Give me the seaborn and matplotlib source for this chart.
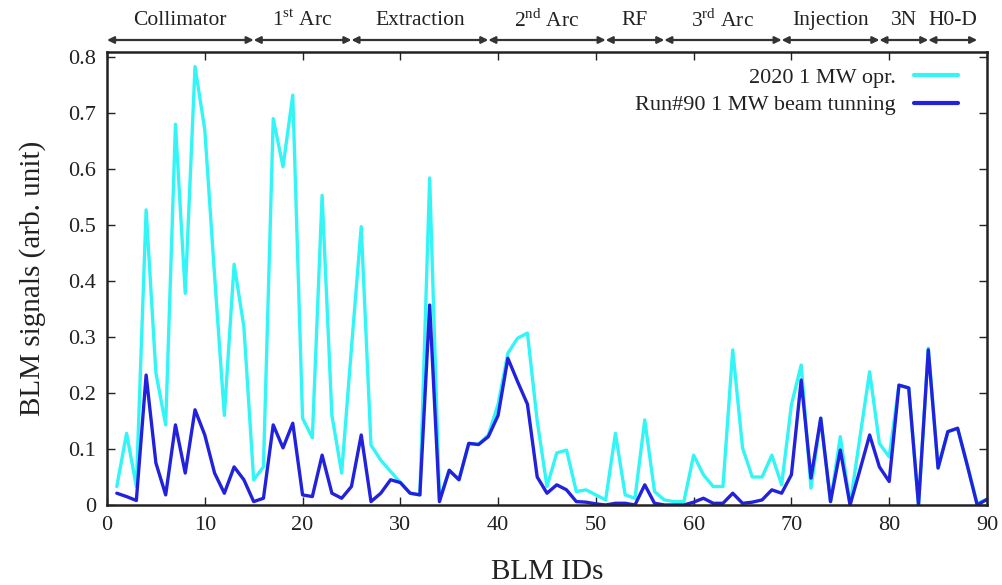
import matplotlib
matplotlib.use("Agg")
import matplotlib.pyplot as plt
import seaborn as sns
import pandas as pd
from matplotlib.lines import Line2D

blm_ids = list(range(1, 91))
opr_2020 = [0.033, 0.128, 0.033, 0.527, 0.236, 0.143, 0.68, 0.378, 0.783, 0.67,
            0.41, 0.16, 0.43, 0.318, 0.045, 0.068, 0.69, 0.604, 0.732, 0.155,
            0.12, 0.553, 0.16, 0.057, 0.28, 0.497, 0.107, 0.08, 0.06, 0.04,
            0.021, 0.018, 0.584, 0.009, 0.062, 0.045, 0.11, 0.108, 0.125, 0.18,
            0.271, 0.298, 0.307, 0.15, 0.033, 0.093, 0.098, 0.024, 0.027, 0.018,
            0.009, 0.128, 0.018, 0.012, 0.152, 0.024, 0.009, 0.006, 0.006, 0.089,
            0.054, 0.033, 0.033, 0.277, 0.102, 0.05, 0.05, 0.089, 0.036, 0.179,
            0.25, 0.03, 0.155, 0.006, 0.122, 0.0, 0.12, 0.238, 0.11, 0.086,
            0.214, 0.209, 0.0, 0.28, 0.066, 0.131, 0.137, 0.07, 0.003, 0.01]
run90 = [0.021, 0.015, 0.008, 0.232, 0.075, 0.018, 0.143, 0.057, 0.17, 0.125,
         0.057, 0.021, 0.068, 0.045, 0.006, 0.012, 0.143, 0.102, 0.146, 0.018,
         0.015, 0.089, 0.021, 0.012, 0.033, 0.125, 0.006, 0.021, 0.045, 0.04,
         0.021, 0.018, 0.357, 0.006, 0.062, 0.045, 0.11, 0.108, 0.122, 0.16,
         0.262, 0.22, 0.18, 0.05, 0.021, 0.036, 0.027, 0.006, 0.005, 0.002,
         0.0, 0.003, 0.003, 0.0, 0.036, 0.003, 0.0, 0.0, 0.0, 0.005,
         0.012, 0.003, 0.003, 0.021, 0.003, 0.005, 0.009, 0.027, 0.021, 0.054,
         0.223, 0.048, 0.155, 0.006, 0.098, 0.0, 0.062, 0.125, 0.068, 0.042,
         0.214, 0.209, 0.0, 0.277, 0.066, 0.131, 0.137, 0.07, 0.0, 0.01]
series_names = ["2020 1 MW opr.", "Run#90 1 MW beam tunning"]
series_colors = ["#33f5f5", "#2222dd"]

section_names = ["Collimator", r"1$^{\mathrm{st}}$ Arc", "Extraction", r"2$^{\mathrm{nd}}$ Arc",
                 "RF", r"3$^{\mathrm{rd}}$ Arc", "Injection", "3N", "H0-D"]
section_bounds = [0, 15, 25, 39, 51, 57, 69, 79, 84, 89]

sns.set_style("ticks")
plt.rcParams["font.family"] = ["Liberation Serif", "DejaVu Serif"]
plt.rcParams["mathtext.fontset"] = "custom"
plt.rcParams["mathtext.rm"] = "Liberation Serif"

df = pd.DataFrame({
    "BLM": blm_ids * 2,
    "signal": opr_2020 + run90,
    "series": [series_names[0]] * len(blm_ids) + [series_names[1]] * len(blm_ids),
})

fig = plt.figure(figsize=(10.03, 5.85), dpi=100)
ax = fig.add_axes([0.1067, 0.1368, 0.8773, 0.7743])
sns.lineplot(data=df, x="BLM", y="signal", hue="series", palette=series_colors,
             hue_order=series_names, linewidth=2.4, legend=False, ax=ax)

ax.set_xlim(0, 90)
ax.set_ylim(0, 0.809)
ax.set_xticks(range(0, 91, 10))
ax.set_yticks([0, 0.1, 0.2, 0.3, 0.4, 0.5, 0.6, 0.7, 0.8])
ax.set_yticklabels(["0", "0.1", "0.2", "0.3", "0.4", "0.5", "0.6", "0.7", "0.8"])
ax.tick_params(direction="in", length=6, width=1, top=True, right=True,
               labelsize=16, colors="#222222", pad=8)
for s in ax.spines.values():
    s.set_linewidth(1.8)
    s.set_color("#222222")
ax.set_xlabel("BLM IDs", fontsize=21, color="#222222", labelpad=17)
ax.set_ylabel("BLM signals (arb. unit)", fontsize=21, color="#222222", labelpad=16)

handles = [Line2D([0], [0], color=c, lw=3) for c in series_colors]
leg = ax.legend(handles, series_names, loc="upper right", frameon=False,
                markerfirst=False, fontsize=16, handlelength=2.0,
                borderaxespad=0.3, labelspacing=0.3, bbox_to_anchor=(0.985, 1.0))
for t in leg.get_texts():
    t.set_color("#222222")
    t.set_ha("right")

trans = ax.get_xaxis_transform()
for i, name in enumerate(section_names):
    a, b = section_bounds[i], section_bounds[i + 1]
    ax.annotate("", xy=(b, 1.0265), xytext=(a, 1.0265), xycoords=trans, textcoords=trans,
                arrowprops=dict(arrowstyle="<|-|>", color="#333333", lw=1.6,
                                shrinkA=0, shrinkB=0, mutation_scale=10),
                annotation_clip=False)
    ax.text((a + b) / 2, 1.07, name, transform=trans, ha="center", va="center",
            fontsize=15.5, color="#222222", clip_on=False)

fig.savefig("out.png", dpi=100)
